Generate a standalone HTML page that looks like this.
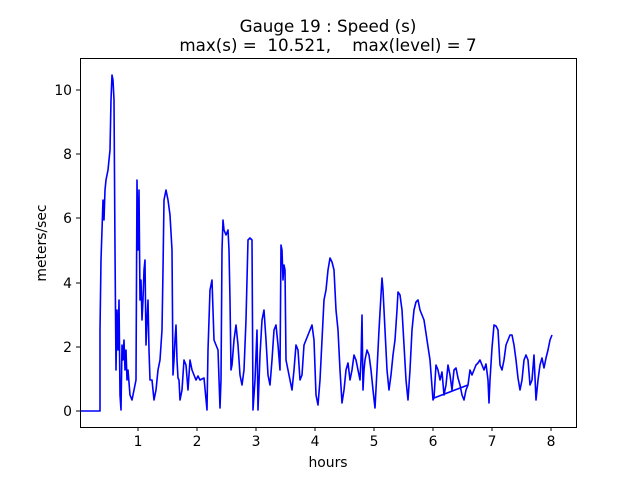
<!DOCTYPE html>
<html><head><meta charset="utf-8"><style>
body{margin:0;background:#fff}
svg text{font-family:"DejaVu Sans","Liberation Sans",sans-serif;fill:#000}
</style></head><body>
<svg width="640" height="480" viewBox="0 0 640 480" xmlns="http://www.w3.org/2000/svg">
<rect width="640" height="480" fill="#fff"/>
<text x="328" y="32" font-size="16.7" text-anchor="middle">Gauge 19 : Speed (s)</text>
<text x="328" y="51" font-size="16.7" text-anchor="middle" xml:space="preserve">max(s) =  10.521,    max(level) = 7</text>
<polyline fill="none" stroke="#0000ff" stroke-width="1.6" stroke-linejoin="round" points="81,411 100,411 100,330 101,260 102,230 103,200 104,220 105,190 106,180 108,170 110,150 111,100 112,75 113,80 114,100 115,250 116,370 117,310 118,350 119,300 120,395 121,410 122,345 123,360 124,340 125,370 126,350 127,380 128,370 130,395 132,400 134,390 136,380 137,180 138,250 139,190 140,300 141,280 142,320 143,300 144,270 145,260 146,345 147,320 148,300 149,350 150,380 152,380 154,400 156,390 158,370 160,360 162,330 163,270 164,200 166,190 168,200 170,215 172,250 173,375 174,360 175,340 176,325 177,360 178,378 179,380 180,400 182,390 184,360 186,365 188,390 190,360 192,370 194,375 196,380 198,376 200,380 204,378 207,410 208,350 210,290 212,280 214,340 216,345 218,350 220,408 221,380 222,250 223,220 224,230 226,235 228,230 229,250 230,300 231,370 232,365 234,340 236,325 238,345 240,375 242,385 244,370 246,320 248,240 250,238 252,240 253,410 255,380 257,330 258,410 260,355 262,320 264,310 266,340 268,375 270,385 272,360 274,330 276,325 278,345 280,370 281,245 282,250 283,280 284,265 285,270 286,360 288,370 290,380 292,390 294,370 296,345 298,350 300,380 302,375 304,345 306,340 308,335 310,330 312,325 314,340 316,395 318,405 320,380 322,340 324,300 326,290 328,270 330,258 332,262 334,270 336,310 338,330 340,370 342,403 344,390 346,370 348,363 350,380 352,370 354,355 356,360 358,370 360,380 361,360 362,315 363,390 364,370 365,360 367,350 369,355 371,370 373,390 375,408 377,370 379,330 381,295 382,278 383,290 385,330 387,370 389,390 391,375 393,355 395,340 397,310 398,292 400,295 402,310 404,345 406,380 408,400 410,370 412,330 414,310 416,302 418,300 420,310 424,320 427,340 430,360 433,400 434,398 468,385 470,370 472,375 474,370 476,365 478,363 480,360 482,365 484,370 486,364 488,380 489,403 490,380 492,348 494,325 496,326 498,330 500,365 502,370 504,360 506,345 508,340 510,335 512,335 514,345 516,360 518,378 520,390 522,380 524,360 526,355 528,360 530,385 532,380 534,355 536,400 538,380 540,365 542,358 544,368 546,358 548,350 550,340 552,335"/>
<polyline fill="none" stroke="#0000ff" stroke-width="1.6" stroke-linejoin="round" points="434,398 436,365 438,370 440,380 442,372 444,395 446,385 448,365 450,375 452,390 454,370 456,368 458,378 460,385 462,395 464,400 466,390 468,385"/>
<rect x="80.5" y="58.5" width="496" height="369" fill="none" stroke="#000" stroke-width="1"/>
<g stroke="#000" stroke-width="1">
<line x1="138" y1="427" x2="138" y2="431"/><line x1="197" y1="427" x2="197" y2="431"/><line x1="256" y1="427" x2="256" y2="431"/><line x1="315" y1="427" x2="315" y2="431"/><line x1="374" y1="427" x2="374" y2="431"/><line x1="433" y1="427" x2="433" y2="431"/><line x1="492" y1="427" x2="492" y2="431"/><line x1="551" y1="427" x2="551" y2="431"/>
<line x1="76" y1="411" x2="80" y2="411"/><line x1="76" y1="347" x2="80" y2="347"/><line x1="76" y1="283" x2="80" y2="283"/><line x1="76" y1="218" x2="80" y2="218"/><line x1="76" y1="154" x2="80" y2="154"/><line x1="76" y1="90" x2="80" y2="90"/>
</g>
<g font-size="13.9" text-anchor="middle">
<text x="138" y="446">1</text><text x="197" y="446">2</text><text x="256" y="446">3</text><text x="315" y="446">4</text><text x="374" y="446">5</text><text x="433" y="446">6</text><text x="492" y="446">7</text><text x="551" y="446">8</text>
</g>
<g font-size="13.9" text-anchor="end">
<text x="72" y="416">0</text><text x="72" y="352">2</text><text x="72" y="288">4</text><text x="72" y="223">6</text><text x="72" y="159">8</text><text x="72" y="95">10</text>
</g>
<text x="328" y="467" font-size="13.9" text-anchor="middle">hours</text>
<text transform="translate(46,243) rotate(-90)" font-size="13.9" text-anchor="middle">meters/sec</text>
</svg>
</body></html>
